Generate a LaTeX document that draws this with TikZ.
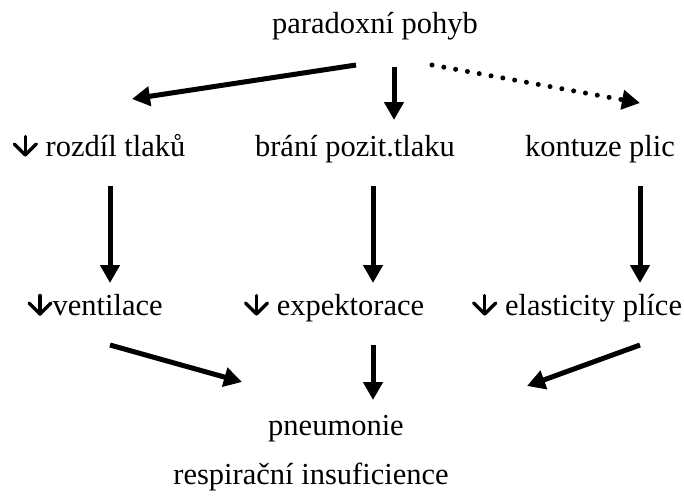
\documentclass[tikz,border=0pt]{standalone}
\usepackage{fontspec}
\setmainfont{Liberation Serif}
\usetikzlibrary{arrows.meta}

% small open down arrow used in the labels
\newcommand{\dn}{\tikz[x=1pt, y=1pt, baseline=0pt, line width=3.4pt, line cap=round, line join=round]
  {\draw (12.5,19.5) -- (12.5,1); \draw (1.5,12) -- (12.5,1) -- (23.5,12);}}

\begin{document}
\begin{tikzpicture}[x=1pt, y=-1pt,
    lbl/.style={anchor=base, inner sep=0pt, font=\fontsize{30.5}{36}\selectfont},
    arr/.style={-{Triangle[length=18pt, width=19pt]}, line width=5pt},
    dotarr/.style={arr, dash pattern=on 0pt off 12pt, line cap=round}]

  \useasboundingbox (0,0) rectangle (684,495);

  % Text nodes
  \node[lbl] (pohyb) at (375,34) {paradoxní pohyb};
  \node[lbl] (tlak) at (99,156) {\dn\ rozdíl tlaků};
  \node[lbl] (brani) at (355,156) {brání pozit.tlaku};
  \node[lbl] (kontuze) at (600,156) {kontuze plic};
  \node[lbl] (vent) at (95,315) {\dn{}ventilace};
  \node[lbl] (expekt) at (334,315) {\dn\ expektorace};
  \node[lbl] (elast) at (577,315) {\dn\ elasticity plíce};
  \node[lbl] (pneu) at (336,435) {pneumonie};
  \node[lbl] (resp) at (311,484) {respirační insuficience};

  % Arrow end points
  \coordinate (a1) at (356,65);  \coordinate (b1) at (132,99);
  \coordinate (a2) at (394,67);  \coordinate (b2) at (394,120);
  \coordinate (a3) at (432,65);  \coordinate (b3) at (640,103);
  \coordinate (a4) at (110,186); \coordinate (b4) at (110,283);
  \coordinate (a5) at (373,186); \coordinate (b5) at (373,283);
  \coordinate (a6) at (640,186); \coordinate (b6) at (640,283);
  \coordinate (a7) at (110,345); \coordinate (b7) at (242,382);
  \coordinate (a8) at (373,345); \coordinate (b8) at (373,400);
  \coordinate (a9) at (640,345); \coordinate (b9) at (527,386);

  % Top row
  \draw[arr] (a1) -- (b1);
  \draw[arr] (a2) -- (b2);
  \draw[dotarr] (a3) -- (b3);

  % Middle row
  \draw[arr] (a4) -- (b4);
  \draw[arr] (a5) -- (b5);
  \draw[arr] (a6) -- (b6);

  % Bottom row
  \draw[arr] (a7) -- (b7);
  \draw[arr] (a8) -- (b8);
  \draw[arr] (a9) -- (b9);

\end{tikzpicture}
\end{document}
